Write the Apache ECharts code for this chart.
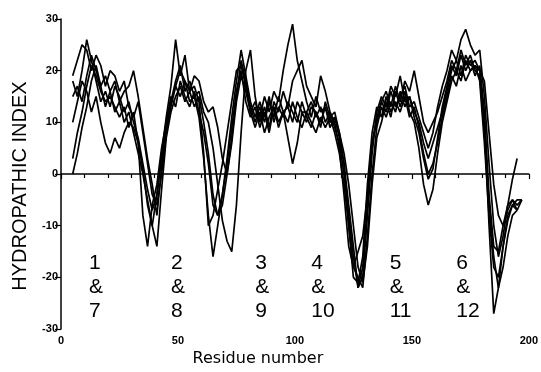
<!DOCTYPE html>
<html>
<head>
<meta charset="utf-8">
<script src="https://cdn.jsdelivr.net/npm/echarts@6/dist/echarts.min.js"></script>
<style>
  html, body { margin: 0; padding: 0; background: #fff; }
  #chart { width: 541px; height: 372px; }
</style>
</head>
<body>
<div id="chart"></div>
<script>
// residue numbers, every 2nd residue from 5
const residues = [
  5, 7, 9, 11, 13, 15, 17, 19, 21, 23,
  25, 27, 29, 31, 33, 35, 37, 39, 41, 43,
  45, 47, 49, 51, 53, 55, 57, 59, 61, 63,
  65, 67, 69, 71, 73, 75, 77, 79, 81, 83,
  85, 87, 89, 91, 93, 95, 97, 99, 101, 103,
  105, 107, 109, 111, 113, 115, 117, 119, 121, 123,
  125, 127, 129, 131, 133, 135, 137, 139, 141, 143,
  145, 147, 149, 151, 153, 155, 157, 159, 161, 163,
  165, 167, 169, 171, 173, 175, 177, 179, 181, 183,
  185, 187, 189, 191, 193, 195, 197
];

const profile1 = [
  19, 22, 25, 24, 20, 23, 21, 17, 20, 19,
  16, 18, 13, 11, 14, 8, 2, -4, -6, 0,
  8, 13, 17, 20, 18, 16, 17, 14, 4, -10,
  -8, -3, 2, 8, 14, 20, 21, 17, 13, 10,
  13, 10, 14, 11, 15, 12, 13, 10, 14, 12,
  12, 14, 11, 13, 10, 12, 9, 6, 0, -8,
  -16, -22, -20, -8, 4, 12, 15, 13, 17, 15,
  19, 14, 15, 12, 10, 6, 3, 6, 9, 12,
  16, 20, 22, 19, 23, 21, 22, 20, 10, -10,
  -27, -22, -14, -8, -6, -5, -5
];
const profile2 = [
  18, 15, 20, 26, 22, 18, 14, 16, 13, 17,
  15, 12, 14, 10, 7, 2, -3, -7, -4, 4,
  11, 17, 26, 19, 23, 16, 19, 18, 14, 12,
  13, 9, 3, 0, 6, 14, 19, 16, 12, 14,
  11, 15, 12, 16, 14, 20, 25, 29, 22, 18,
  14, 11, 15, 12, 13, 10, 11, 8, 2, -6,
  -14, -22, -18, -6, 6, 10, 14, 12, 16, 13,
  15, 17, 13, 14, 11, 8, 5, 8, 13, 17,
  20, 24, 22, 26, 28, 25, 23, 24, 15, 2,
  -10, -16, -12, -6, -1, 3
];
const profile3 = [
  15, 17, 14, 19, 23, 20, 17, 19, 16, 18,
  14, 16, 17, 20, 15, 9, 3, -2, -8, 1,
  10, 14, 18, 21, 16, 18, 15, 16, 12, 10,
  5, -2, -9, -13, -15, -6, 8, 20, 24, 15,
  10, 13, 9, 14, 12, 16, 13, 18, 20, 22,
  17, 15, 13, 19, 16, 12, 10, 5, -4, -14,
  -18, -15, -12, -4, 6, 11, 14, 16, 13, 17,
  14, 18, 16, 20, 15, 10, 8, 10, 12, 15,
  18, 22, 20, 24, 21, 23, 20, 19, 8, -6,
  -16, -22, -18, -12, -8, -7
];
const profile4 = [
  10, 14, 18, 16, 12, 15, 10, 6, 4, 7,
  5, 8, 10, 9, 6, 1, -6, -10, -4, 3,
  8, 14, 17, 15, 18, 14, 15, 11, 3, -8,
  -16, -10, -4, 2, 9, 16, 20, 14, 11, 13,
  9, 12, 8, 13, 10, 12, 7, 2, 6, 12,
  10, 13, 12, 9, 14, 11, 12, 8, 4, -2,
  -10, -18, -21, -14, -2, 7, 10, 14, 11, 16,
  13, 16, 12, 10, 5, -2, -6, -3, 4, 10,
  14, 18, 20, 18, 22, 20, 21, 18, 6, -8,
  -18, -20, -14, -9, -6, -7
];
const profile5 = [
  3, 8, 12, 17, 21, 19, 16, 14, 15, 13,
  11, 13, 9, 12, 6, -8, -14, -6, -2, 5,
  10, 15, 13, 18, 15, 13, 16, 12, 8, 2,
  -6, -8, -4, 3, 11, 18, 24, 19, 14, 11,
  14, 11, 15, 10, 13, 11, 14, 12, 10, 14,
  11, 9, 12, 10, 13, 9, 11, 7, 2, -10,
  -20, -21, -16, -2, 8, 13, 11, 15, 12, 14,
  12, 15, 11, 13, 9, 4, 0, 2, 6, 11,
  15, 19, 17, 21, 18, 20, 21, 20, 18, 8,
  -2, -8, -10, -6, -5, -7, -5
];
const profile6 = [
  0, 4, 9, 13, 18, 21, 17, 13, 16, 12,
  14, 10, 12, 8, 4, 0, -5, -10, -14, -3,
  7, 12, 15, 17, 14, 16, 13, 15, 10, 4,
  -4, -8, -6, 0, 7, 15, 22, 18, 12, 9,
  12, 8, 11, 13, 9, 12, 10, 14, 11, 9,
  12, 10, 8, 11, 9, 11, 8, 4, -2, -10,
  -18, -20, -22, -12, 0, 9, 13, 11, 14, 12,
  16, 13, 15, 11, 8, 3, -1, 1, 7, 13,
  17, 21, 19, 23, 20, 22, 19, 21, 12, -4,
  -14, -15, -10, -7, -5, -6, -5
];
const profiles = [profile1, profile2, profile3, profile4, profile5, profile6];

// repeat labels written inside the plot
const repeatLabels = ['1\n&\n7', '2\n&\n8', '3\n&\n9', '4\n&\n10', '5\n&\n11', '6\n&\n12'];
const repeatX = [12, 47, 83, 107, 140.5, 169];
const repeatY = -21.8;

const chart = echarts.init(document.getElementById('chart'));

const axisLine = { show: true, lineStyle: { color: '#000', width: 1.5 } };
const tickLabel = { color: '#000', fontSize: 11, fontWeight: 'bold', fontFamily: 'Liberation Sans' };

chart.setOption({
  animation: false,
  backgroundColor: '#fff',
  grid: { left: 61, right: 9, top: 19, bottom: 34 },
  xAxis: {
    type: 'value',
    min: 0,
    max: 200,
    interval: 50,
    name: 'Residue number',
    nameLocation: 'middle',
    nameGap: 19,
    nameTextStyle: {
      color: '#000', fontSize: 16, fontFamily: 'DejaVu Sans',
      padding: [0, 74, 0, 0],
    },
    axisLine: axisLine,
    axisTick: { show: true, length: 5, lineStyle: { color: '#000', width: 1.2 } },
    minorTick: { show: true, splitNumber: 5, length: 4, lineStyle: { color: '#000', width: 1.2 } },
    axisLabel: { ...tickLabel, margin: 6 },
    splitLine: { show: false },
  },
  yAxis: {
    type: 'value',
    min: -30,
    max: 30,
    interval: 10,
    name: 'HYDROPATHIC INDEX',
    nameLocation: 'middle',
    nameGap: 31,
    nameTextStyle: {
      color: '#000', fontSize: 20, fontFamily: 'Liberation Sans',
      padding: [0, 24, 0, 0],
    },
    axisLine: axisLine,
    axisTick: { show: true, length: 6, lineStyle: { color: '#000', width: 1.2 } },
    axisLabel: { ...tickLabel, margin: 3 },
    splitLine: { show: false },
  },
  series: [
    ...profiles.map((p, i) => ({
      name: 'profile' + (i + 1),
      type: 'line',
      showSymbol: false,
      symbol: 'none',
      lineStyle: { color: '#000', width: 1.7 },
      data: p.map((v, j) => [residues[j], v]),
    })),
    {
      type: 'scatter',
      symbolSize: 0,
      silent: true,
      itemStyle: { opacity: 1, color: '#000' },
      data: repeatLabels.map((t, i) => ({ value: [repeatX[i], repeatY], text: t })),
      label: {
        show: true,
        position: 'right',
        distance: 0,
        formatter: (p) => p.data.text,
        color: '#000',
        opacity: 1,
        textBorderWidth: 0,
        fontSize: 21,
        lineHeight: 24,
        align: 'left',
        fontFamily: 'Liberation Sans',
      },
    },
  ],
});
</script>
</body>
</html>
